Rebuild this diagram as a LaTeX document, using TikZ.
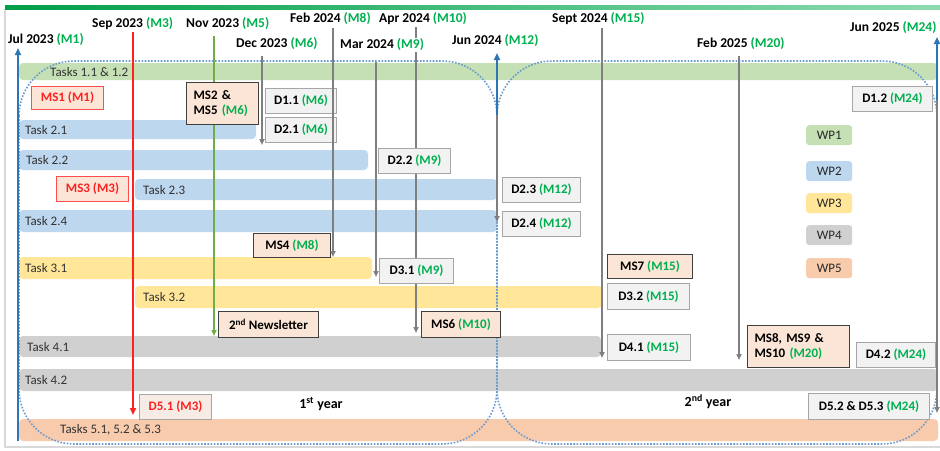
\documentclass[tikz,border=0pt]{standalone}
\usepackage{fontspec}
\setmainfont{Carlito}
\usetikzlibrary{arrows.meta}
\definecolor{mgreen}{HTML}{00B050}
\definecolor{wpone}{HTML}{C5E0B4}
\definecolor{wptwo}{HTML}{BDD7EE}
\definecolor{wpthree}{HTML}{FFE699}
\definecolor{wpfour}{HTML}{D0D0D0}
\definecolor{wpfive}{HTML}{F8CBAD}
\definecolor{msfill}{HTML}{FBE5D6}
\definecolor{dfill}{HTML}{F2F2F2}
\definecolor{boxgray}{HTML}{A6A6A6}
\definecolor{linegray}{HTML}{7F7F7F}
\definecolor{axisblue}{HTML}{2E75B6}
\definecolor{dotblue}{HTML}{6A9BD1}
\definecolor{msred}{HTML}{FF2020}
\definecolor{nlgreen}{HTML}{70AD47}
\newcommand\mg[1]{\textcolor{mgreen}{#1}}
\begin{document}
\begin{tikzpicture}[x=1pt,y=-1pt,
  lbl/.style={font=\fontsize{13.5}{15}\selectfont\bfseries, anchor=west, inner sep=1pt, fill=white},
  tasktxt/.style={font=\fontsize{13}{15}\selectfont, anchor=west, inner sep=0pt, text=black!80},
  boxbase/.style={draw, line width=1pt, font=\fontsize{13}{15}\selectfont\bfseries, inner sep=0pt, anchor=north west},
  dbox/.style={boxbase, draw=boxgray, fill=dfill},
  msbox/.style={boxbase, draw=black!75, fill=msfill},
  msredbox/.style={boxbase, draw=msred!80, fill=msfill, text=msred},
  wp/.style={rounded corners=3pt, minimum width=46pt, minimum height=20pt, inner sep=0pt, font=\fontsize{13}{15}\selectfont, anchor=north west, text=black!85},
  gline/.style={draw=linegray, line width=1.8pt, -{Triangle[length=6pt,width=5pt]}},
  bline/.style={draw=axisblue, line width=2pt, -{Triangle[length=7pt,width=6pt]}},
  dotline/.style={draw=dotblue, line width=1.6pt, dash pattern=on 1.6pt off 1.6pt, rounded corners=55pt},
  barshape/.style={rounded corners=4pt}
]
\useasboundingbox (0,0) rectangle (940,450);
\fill[white] (0,0) rectangle (940,450);
% frame and top line
\draw[black!15, line width=1.5pt] (5,9) -- (5,447) -- (945,447);
\shade[left color=mgreen!90!black, right color=mgreen!45] (5,5) rectangle (940,9);

% bars
\fill[wpone, barshape] (19,63) rectangle (938,80);
\fill[wptwo, barshape] (19,120) rectangle (256,139);
\fill[wptwo, barshape] (19,150) rectangle (368,170);
\fill[wptwo, barshape] (135,179) rectangle (497,200);
\fill[wptwo, barshape] (19,210) rectangle (497,232);
\fill[wpthree, barshape] (19,257) rectangle (372,279);
\fill[wpthree, barshape] (135,286) rectangle (602,308);
\fill[wpfour, barshape] (19,336) rectangle (601,357);
\fill[wpfour, barshape] (19,369) rectangle (938,391);
\fill[wpfive, barshape] (19,419) rectangle (938,441);

\node[tasktxt] (t1) at (50,72) {Tasks 1.1 \& 1.2};
\node[tasktxt] (t21) at (25,130) {Task 2.1};
\node[tasktxt] (t22) at (26,160) {Task 2.2};
\node[tasktxt] (t23) at (143,190) {Task 2.3};
\node[tasktxt] (t24) at (25,221) {Task 2.4};
\node[tasktxt] (t31) at (25,268) {Task 3.1};
\node[tasktxt] (t32) at (143,297) {Task 3.2};
\node[tasktxt] (t41) at (27,347) {Task 4.1};
\node[tasktxt] (t42) at (25,380) {Task 4.2};
\node[tasktxt] (t5) at (60,430) {Tasks 5.1, 5.2 \& 5.3};

% year frames
\draw[dotline] (19,61) rectangle (497,444);
\draw[dotline] (497,61) rectangle (937,444);

% coordinates for connector ends
\coordinate (julB) at (18,441);
\coordinate (julT) at (18,48);
\coordinate (sepT) at (133,32);
\coordinate (sepB) at (133,415);
\coordinate (novT) at (214,36);
\coordinate (novB) at (214,336);
\coordinate (decT) at (262,56);
\coordinate (decB) at (262,145);
\coordinate (febT) at (333,28);
\coordinate (febB) at (333,257);
\coordinate (marT) at (376,62);
\coordinate (marB) at (376,277);
\coordinate (aprT) at (416,27);
\coordinate (aprB) at (416,333);
\coordinate (junM) at (497,115);
\coordinate (junT) at (497,53);
\coordinate (junB) at (497,222);
\coordinate (septT) at (602,28);
\coordinate (septB) at (602,358);
\coordinate (feb5T) at (739,56);
\coordinate (feb5B) at (739,360);
\coordinate (jun5M) at (937,100);
\coordinate (jun5T) at (937,37);
\coordinate (jun5B) at (937,413);

% vertical lines
\draw[bline] (julB) -- (julT);
\draw[draw=msred, line width=2pt, -{Triangle[length=7pt,width=6pt]}] (sepT) -- (sepB);
\draw[draw=nlgreen, line width=2pt, -{Triangle[length=6pt,width=5pt]}] (novT) -- (novB);
\draw[gline] (decT) -- (decB);
\draw[gline] (marT) -- (marB);
\draw[gline] (aprT) -- (aprB);
\draw[gline] (junM) -- (junB);
\draw[bline] (junM) -- (junT);
\draw[gline] (septT) -- (septB);
\draw[gline] (feb5T) -- (feb5B);
\draw[gline] (jun5M) -- (jun5B);
\draw[bline] (jun5M) -- (jun5T);

% boxes
\node[msredbox, minimum width=72pt, minimum height=23pt] (ms1) at (31,86) {MS1 (M1)};
\node[msbox, minimum height=42pt, text width=58pt, inner xsep=7pt, align=left] (ms25) at (186,82) {MS2 \&\\MS5 \mg{(M6)}};
\node[dbox, minimum width=71pt, minimum height=25pt] (d11) at (265,88) {D1.1 \mg{(M6)}};
\node[dbox, minimum width=71pt, minimum height=25pt] (d21) at (265,117) {D2.1 \mg{(M6)}};
\node[dbox, minimum width=72pt, minimum height=25pt] (d22) at (378,148) {D2.2 \mg{(M9)}};
\node[msredbox, minimum width=72pt, minimum height=25pt] (ms3) at (56,176) {MS3 (M3)};
\node[dbox, minimum width=78pt, minimum height=25pt] (d23) at (502,177) {D2.3 \mg{(M12)}};
\node[dbox, minimum width=78pt, minimum height=25pt] (d24) at (502,211) {D2.4 \mg{(M12)}};
\node[msbox, minimum width=77pt, minimum height=24pt] (ms4) at (253,233) {MS4 \mg{(M8)}};
\node[dbox, minimum width=74pt, minimum height=25pt] (d31) at (379,258) {D3.1 \mg{(M9)}};
\node[msbox, minimum width=85pt, minimum height=24pt] (ms7) at (607,254) {MS7 \mg{(M15)}};
\node[dbox, minimum width=82pt, minimum height=26pt] (d32) at (607,283) {D3.2 \mg{(M15)}};
\node[msbox, minimum width=100pt, minimum height=26pt] (nl) at (218,311) {2\textsuperscript{nd} Newsletter};
\node[msbox, minimum width=79pt, minimum height=26pt] (ms6) at (421,311) {MS6 \mg{(M10)}};
\node[dbox, minimum width=83pt, minimum height=26pt] (d41) at (607,334) {D4.1 \mg{(M15)}};
\node[msbox, minimum height=42pt, text width=88pt, inner xsep=7pt, align=left] (ms8) at (747,325) {MS8, MS9 \&\\MS10 \mg{(M20)}};
\node[dbox, minimum width=79pt, minimum height=25pt] (d42) at (856,342) {D4.2 \mg{(M24)}};
\node[dbox, minimum width=80pt, minimum height=25pt] (d12) at (852,86) {D1.2 \mg{(M24)}};
\node[dbox, fill=msfill!45!dfill, text=msred, minimum width=72pt, minimum height=25pt] (d51) at (139,394) {D5.1 (M3)};
\node[dbox, minimum width=121pt, minimum height=26pt] (d52) at (808,393) {D5.2 \& D5.3 \mg{(M24)}};

% Feb 2024 line drawn over boxes
\draw[gline] (febT) -- (febB);

% legend
\node[wp, fill=wpone] (wp1) at (806,125) {WP1};
\node[wp, fill=wptwo] (wp2) at (806,161) {WP2};
\node[wp, fill=wpthree] (wp3) at (806,193) {WP3};
\node[wp, fill=wpfour] (wp4) at (806,225) {WP4};
\node[wp, fill=wpfive] (wp5) at (806,258) {WP5};

% year labels
\node[font=\fontsize{14}{16}\selectfont\bfseries, inner sep=0pt] (y1) at (321,404) {1\textsuperscript{st} year};
\node[font=\fontsize{14}{16}\selectfont\bfseries, inner sep=0pt] (y2) at (708,402) {2\textsuperscript{nd} year};

% date labels
\node[lbl] (jul) at (7,40) {Jul 2023 \mg{(M1)}};
\node[lbl] (sep) at (91,24) {Sep 2023 \mg{(M3)}};
\node[lbl] (nov) at (185,24) {Nov 2023 \mg{(M5)}};
\node[lbl] (dec) at (235,44) {Dec 2023 \mg{(M6)}};
\node[lbl] (feb) at (289,19) {Feb 2024 \mg{(M8)}};
\node[lbl] (apr) at (378,19) {Apr 2024 \mg{(M10)}};
\node[lbl] (mar) at (339,45) {Mar 2024 \mg{(M9)}};
\node[lbl] (jun) at (451,41) {Jun 2024 \mg{(M12)}};
\node[lbl] (sept) at (551,19) {Sept 2024 \mg{(M15)}};
\node[lbl] (feb5) at (696,44) {Feb 2025 \mg{(M20)}};
\node[lbl, fill=none] (jun5) at (849,28) {Jun 2025 \mg{(M24)}};
\end{tikzpicture}
\end{document}
